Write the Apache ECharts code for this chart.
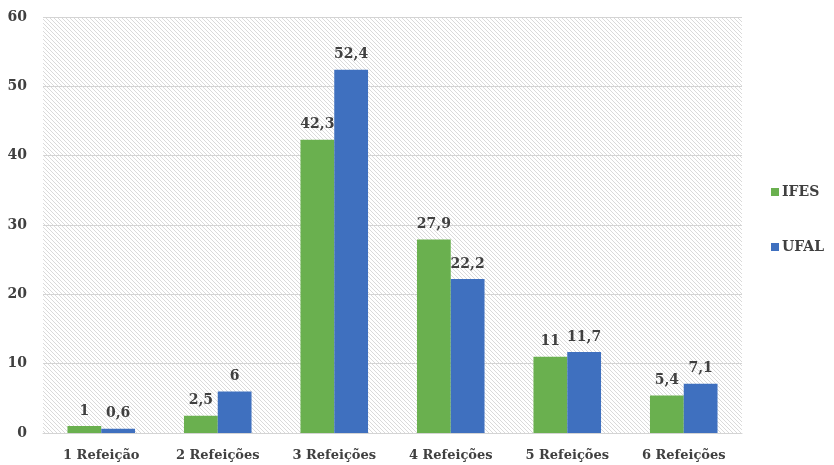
<!DOCTYPE html>
<html><head><meta charset="utf-8">
<script src="https://cdn.jsdelivr.net/npm/echarts@6/dist/echarts.min.js"></script>
<style>html,body{margin:0;padding:0;background:#fff}#c{width:834px;height:465px}</style>
</head><body><div id="c"></div>
<script>
var categories = ['1 Refeição','2 Refeições','3 Refeições','4 Refeições','5 Refeições','6 Refeições'];
var ifes = [1, 2.5, 42.3, 27.9, 11, 5.4];
var ufal = [0.6, 6, 52.4, 22.2, 11.7, 7.1];
var seriesNames = ['IFES','UFAL'];

var tile = document.createElement('canvas');
tile.width = 4; tile.height = 4;
var tc = tile.getContext('2d');
tc.fillStyle = '#ffffff'; tc.fillRect(0,0,4,4);
tc.strokeStyle = '#dadada'; tc.lineWidth = 1;
tc.beginPath(); tc.moveTo(-1,-1); tc.lineTo(5,5); tc.stroke();
tc.beginPath(); tc.moveTo(-1,3); tc.lineTo(1,5); tc.stroke();
tc.beginPath(); tc.moveTo(3,-1); tc.lineTo(5,1); tc.stroke();

var font = '"DejaVu Serif", serif';
var fmt = function(p){ return String(p.value).replace('.', ','); };
var chart = echarts.init(document.getElementById('c'));
chart.setOption({
  animation: false,
  textStyle: {fontFamily: font},
  grid: {left: 43, right: 92, top: 17, bottom: 32, show: true, borderWidth: 0,
         backgroundColor: {image: tile, repeat: 'repeat'}},
  legend: {orient: 'vertical', left: 766, top: 180, itemGap: 41, itemWidth: 8, itemHeight: 8,
           icon: 'rect', data: seriesNames,
           textStyle: {fontFamily: font, fontWeight: 'bold', fontSize: 14, color: '#404040', padding: [0,0,0,-2]}},
  xAxis: {type: 'category', data: categories,
          axisLine: {lineStyle: {color: '#d4d4d4', width: 1}}, axisTick: {show: false},
          axisLabel: {fontFamily: font, fontWeight: 'bold', fontSize: 13, color: '#404040', margin: 16}},
  yAxis: {type: 'value', min: 0, max: 60, interval: 10,
          axisLine: {show: false}, axisTick: {show: false},
          splitLine: {lineStyle: {color: '#d4d4d4', width: 1}},
          axisLabel: {fontFamily: font, fontWeight: 'bold', fontSize: 14, color: '#404040', margin: 16}},
  series: [
    {name: seriesNames[0], type: 'bar', data: ifes, barGap: '0%', barCategoryGap: '42%',
     itemStyle: {color: '#6ab04f'},
     label: {show: true, position: 'top', distance: 8, formatter: fmt, fontFamily: font, fontWeight: 'bold', fontSize: 14, color: '#404040'}},
    {name: seriesNames[1], type: 'bar', data: ufal, barGap: '0%', barCategoryGap: '42%',
     itemStyle: {color: '#3f70bf'},
     label: {show: true, position: 'top', distance: 8, formatter: fmt, fontFamily: font, fontWeight: 'bold', fontSize: 14, color: '#404040'}}
  ]
});
</script></body></html>
